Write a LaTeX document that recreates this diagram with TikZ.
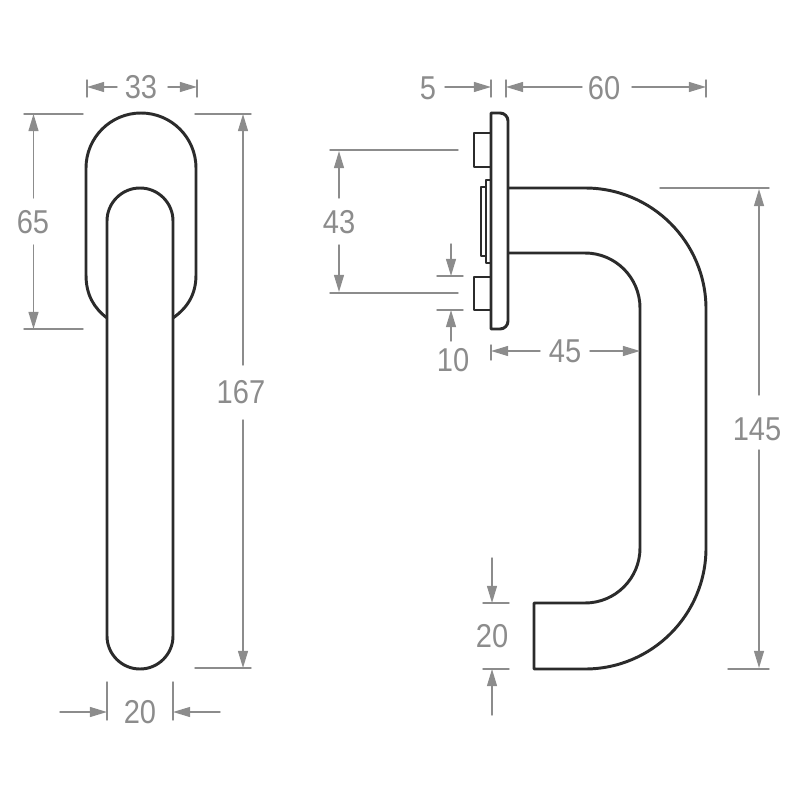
\documentclass[tikz,border=0pt]{standalone}
\usepackage{fontspec}
\setmainfont[FakeStretch=0.88]{Liberation Sans}
\usepackage{tkz-euclide}
\usetikzlibrary{arrows.meta}
\definecolor{dimgray}{HTML}{8C8C8C}
\definecolor{outline}{HTML}{2B2B2B}
\tikzset{
    handleline/.style={draw=outline, line width=2.1pt, line join=round},
    dimline/.style={draw=dimgray, line width=1pt},
    dimarrow/.style={dimline, -{Triangle[length=0.43cm, width=0.25cm]}},
    dimlabel/.style={text=dimgray, inner sep=0pt, font=\fontsize{23.5}{24}\selectfont},
}

\begin{document}
\begin{tikzpicture}[x=0.025cm, y=-0.025cm]
                \useasboundingbox (0,0) rectangle (800,800);

                % front view
                \draw[handleline] (86,275) -- (86,168) arc[start angle=180, end angle=360, radius=55]
                    -- (196,275) .. controls (196,295) and (187,308) .. (173,318);
                \draw[handleline] (86,275) .. controls (86,295) and (94,308) .. (107,318);
                \draw[handleline] (107,636) -- (107,221) arc[start angle=180, end angle=360, radius=33]
                    -- (173,636) arc[start angle=0, end angle=180, radius=33];

                % side view
                \draw[handleline] (491,113) -- (500,113) arc[start angle=-90, end angle=0, radius=8]
                    -- (508,321) arc[start angle=0, end angle=90, radius=8] -- (491,329) -- cycle;
                \draw[handleline] (491,133) -- (474,133) -- (474,167) -- (491,167);
                \draw[handleline] (491,277) -- (474,277) -- (474,310) -- (491,310);
                \draw[handleline] (491,180) -- (486,180) -- (486,263) -- (491,263);
                \draw[handleline] (486,187) -- (481,187) -- (481,256) -- (486,256);
                \draw[handleline] (508,188) -- (585,188) arc[start angle=-90, end angle=0, radius=121]
                    -- (706,548) arc[start angle=0, end angle=90, radius=121]
                    -- (534,669) -- (534,603) -- (585,603) arc[start angle=90, end angle=0, radius=55]
                    -- (640,308) arc[start angle=0, end angle=-90, radius=55] -- (508,253);

                % labels
                \node[dimlabel] (w33) at (141,87) {33};
                \node[dimlabel] (h65) at (33,222) {65};
                \node[dimlabel] (h167) at (241,392) {167};
                \node[dimlabel] (w20) at (140,712) {20};
                \node[dimlabel] (t5) at (428,88) {5};
                \node[dimlabel] (d60) at (604,88) {60};
                \node[dimlabel] (h43) at (339,222) {43};
                \node[dimlabel] (s10) at (453,360) {10};
                \node[dimlabel] (d45) at (565,351) {45};
                \node[dimlabel] (h145) at (757,429) {145};
                \node[dimlabel] (e20) at (492,636) {20};

                % 33
                \tkzDefPoint(87,80){Aa} \tkzDefPoint(87,97){Ab} \tkzDefPoint(87,87){Ac} \tkzDefPoint(117,87){Ad}
                \tkzDefPoint(197,80){Ae} \tkzDefPoint(197,97){Af} \tkzDefPoint(197,87){Ag} \tkzDefPoint(168,87){Ah}
                \tkzDrawSegments[dimline](Aa,Ab Ae,Af)
                \tkzDrawSegments[dimarrow](Ad,Ac Ah,Ag)

                % 65
                \tkzDefPoint(24,114){Ba} \tkzDefPoint(83,114){Bb} \tkzDefPoint(24,329){Bc} \tkzDefPoint(83,329){Bd}
                \tkzDefPoint(33.5,198){Be} \tkzDefPoint(33.5,114){Bf} \tkzDefPoint(33.5,245){Bg} \tkzDefPoint(33.5,329){Bh}
                \tkzDrawSegments[dimline](Ba,Bb Bc,Bd)
                \tkzDrawSegments[dimarrow](Be,Bf Bg,Bh)

                % 167
                \tkzDefPoint(195,114){Ca} \tkzDefPoint(251,114){Cb} \tkzDefPoint(195,668){Cc} \tkzDefPoint(251,668){Cd}
                \tkzDefPoint(243,365){Ce} \tkzDefPoint(243,114){Cf} \tkzDefPoint(243,420){Cg} \tkzDefPoint(243,668){Ch}
                \tkzDrawSegments[dimline](Ca,Cb Cc,Cd)
                \tkzDrawSegments[dimarrow](Ce,Cf Cg,Ch)

                % 20 below the front view
                \tkzDefPoint(107,682){Da} \tkzDefPoint(107,720){Db} \tkzDefPoint(173,682){Dc} \tkzDefPoint(173,720){Dd}
                \tkzDefPoint(60,712){De} \tkzDefPoint(107,712){Df} \tkzDefPoint(220,712){Dg} \tkzDefPoint(173,712){Dh}
                \tkzDrawSegments[dimline](Da,Db Dc,Dd)
                \tkzDrawSegments[dimarrow](De,Df Dg,Dh)

                % 5 and 60
                \tkzDefPoint(491,80){Ea} \tkzDefPoint(491,97){Eb} \tkzDefPoint(506,80){Ec} \tkzDefPoint(506,97){Ed}
                \tkzDefPoint(706,80){Ee} \tkzDefPoint(706,97){Ef}
                \tkzDefPoint(445,87){Eg} \tkzDefPoint(491,87){Eh} \tkzDefPoint(582,87){Ei} \tkzDefPoint(506,87){Ej}
                \tkzDefPoint(632,87){Ek} \tkzDefPoint(706,87){El}
                \tkzDrawSegments[dimline](Ea,Eb Ec,Ed Ee,Ef)
                \tkzDrawSegments[dimarrow](Eg,Eh Ei,Ej Ek,El)

                % 43
                \tkzDefPoint(330,150){Fa} \tkzDefPoint(458,150){Fb} \tkzDefPoint(330,293){Fc} \tkzDefPoint(458,293){Fd}
                \tkzDefPoint(339,198){Fe} \tkzDefPoint(339,151){Ff} \tkzDefPoint(339,245){Fg} \tkzDefPoint(339,292){Fh}
                \tkzDrawSegments[dimline](Fa,Fb Fc,Fd)
                \tkzDrawSegments[dimarrow](Fe,Ff Fg,Fh)

                % 10
                \tkzDefPoint(437,276){Ga} \tkzDefPoint(463,276){Gb} \tkzDefPoint(437,310){Gc} \tkzDefPoint(463,310){Gd}
                \tkzDefPoint(451,244){Ge} \tkzDefPoint(451,276){Gf} \tkzDefPoint(451,341){Gg} \tkzDefPoint(451,310){Gh}
                \tkzDrawSegments[dimline](Ga,Gb Gc,Gd)
                \tkzDrawSegments[dimarrow](Ge,Gf Gg,Gh)

                % 45
                \tkzDefPoint(491,345){Ha} \tkzDefPoint(491,360){Hb}
                \tkzDefPoint(540,351){Hc} \tkzDefPoint(491,351){Hd} \tkzDefPoint(590,351){He} \tkzDefPoint(640,351){Hf}
                \tkzDrawSegment[dimline](Ha,Hb)
                \tkzDrawSegments[dimarrow](Hc,Hd He,Hf)

                % 145
                \tkzDefPoint(660,188){Ia} \tkzDefPoint(769,188){Ib} \tkzDefPoint(728,669){Ic} \tkzDefPoint(769,669){Id}
                \tkzDefPoint(759,395){Ie} \tkzDefPoint(759,189){If} \tkzDefPoint(759,450){Ig} \tkzDefPoint(759,668){Ih}
                \tkzDrawSegments[dimline](Ia,Ib Ic,Id)
                \tkzDrawSegments[dimarrow](Ie,If Ig,Ih)

                % 20 at the end of the grip
                \tkzDefPoint(483,603){Ja} \tkzDefPoint(509,603){Jb} \tkzDefPoint(483,669){Jc} \tkzDefPoint(509,669){Jd}
                \tkzDefPoint(492,558){Je} \tkzDefPoint(492,603){Jf} \tkzDefPoint(492,715){Jg} \tkzDefPoint(492,669){Jh}
                \tkzDrawSegments[dimline](Ja,Jb Jc,Jd)
                \tkzDrawSegments[dimarrow](Je,Jf Jg,Jh)
            \end{tikzpicture}
\end{document}
